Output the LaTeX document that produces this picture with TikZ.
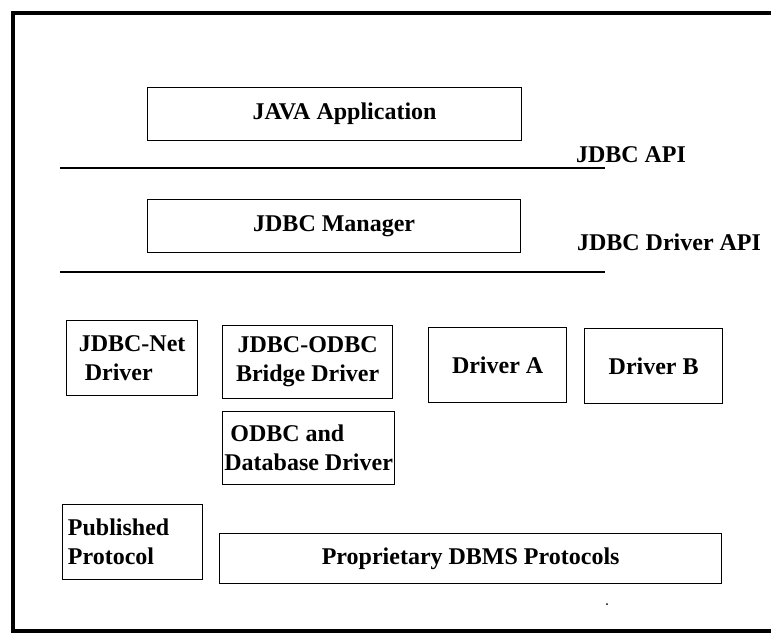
\documentclass[tikz,border=0pt]{standalone}
\usepackage{fontspec}
\setmainfont{Liberation Serif}
\begin{document}
\begin{tikzpicture}[x=1pt,y=-1pt,
  box/.style={draw, line width=1.3pt, inner sep=0pt, anchor=north west,
    font=\fontsize{24}{29}\selectfont\bfseries},
  lbl/.style={inner sep=0pt, font=\fontsize{24}{29}\selectfont\bfseries},
  rule/.style={line width=2pt},
  frame/.style={line width=3.5pt}]
\useasboundingbox (0,0) rectangle (771,635);
\draw[frame] (771,13) -- (13,13) -- (13,631) -- (771,631);

\node[box, minimum width=374pt, minimum height=53pt] (java) at (147,87) {\hspace*{20pt}JAVA Application};
\coordinate (l1a) at (60,168);
\coordinate (l1b) at (605,168);
\draw[rule] (l1a) -- (l1b);
\node[lbl] (api) at (631,155) {JDBC API};

\node[box, minimum width=373pt, minimum height=53pt] (mgr) at (147,199) {JDBC Manager};
\node[lbl] (dapi) at (669,242) {JDBC Driver API};
\coordinate (l2a) at (60,272);
\coordinate (l2b) at (605,272);
\draw[rule] (l2a) -- (l2b);

\node[box, minimum width=131pt, minimum height=75pt, align=left] (net) at (66,320) {JDBC-Net\\\hspace*{6pt}Driver\hspace*{6pt}};
\node[box, minimum width=170pt, minimum height=73pt, align=center] (bridge) at (222,325) {JDBC-ODBC\\Bridge Driver};
\node[box, minimum width=138pt, minimum height=75pt] (da) at (428,327) {Driver A};
\node[box, minimum width=138pt, minimum height=75pt] (db) at (584,328) {Driver B};
\node[box, minimum width=172pt, minimum height=73pt, align=left] (odbc) at (222,411) {\hspace*{6pt}ODBC and\\Database Driver};
\node[box, minimum width=140pt, minimum height=75pt, align=left] (pub) at (62,504) {Published\hspace*{28pt}\\Protocol};
\node[box, minimum width=502pt, minimum height=50pt] (prop) at (219,533) {Proprietary DBMS Protocols};
\fill (607,604) circle (1pt);
\end{tikzpicture}
\end{document}
